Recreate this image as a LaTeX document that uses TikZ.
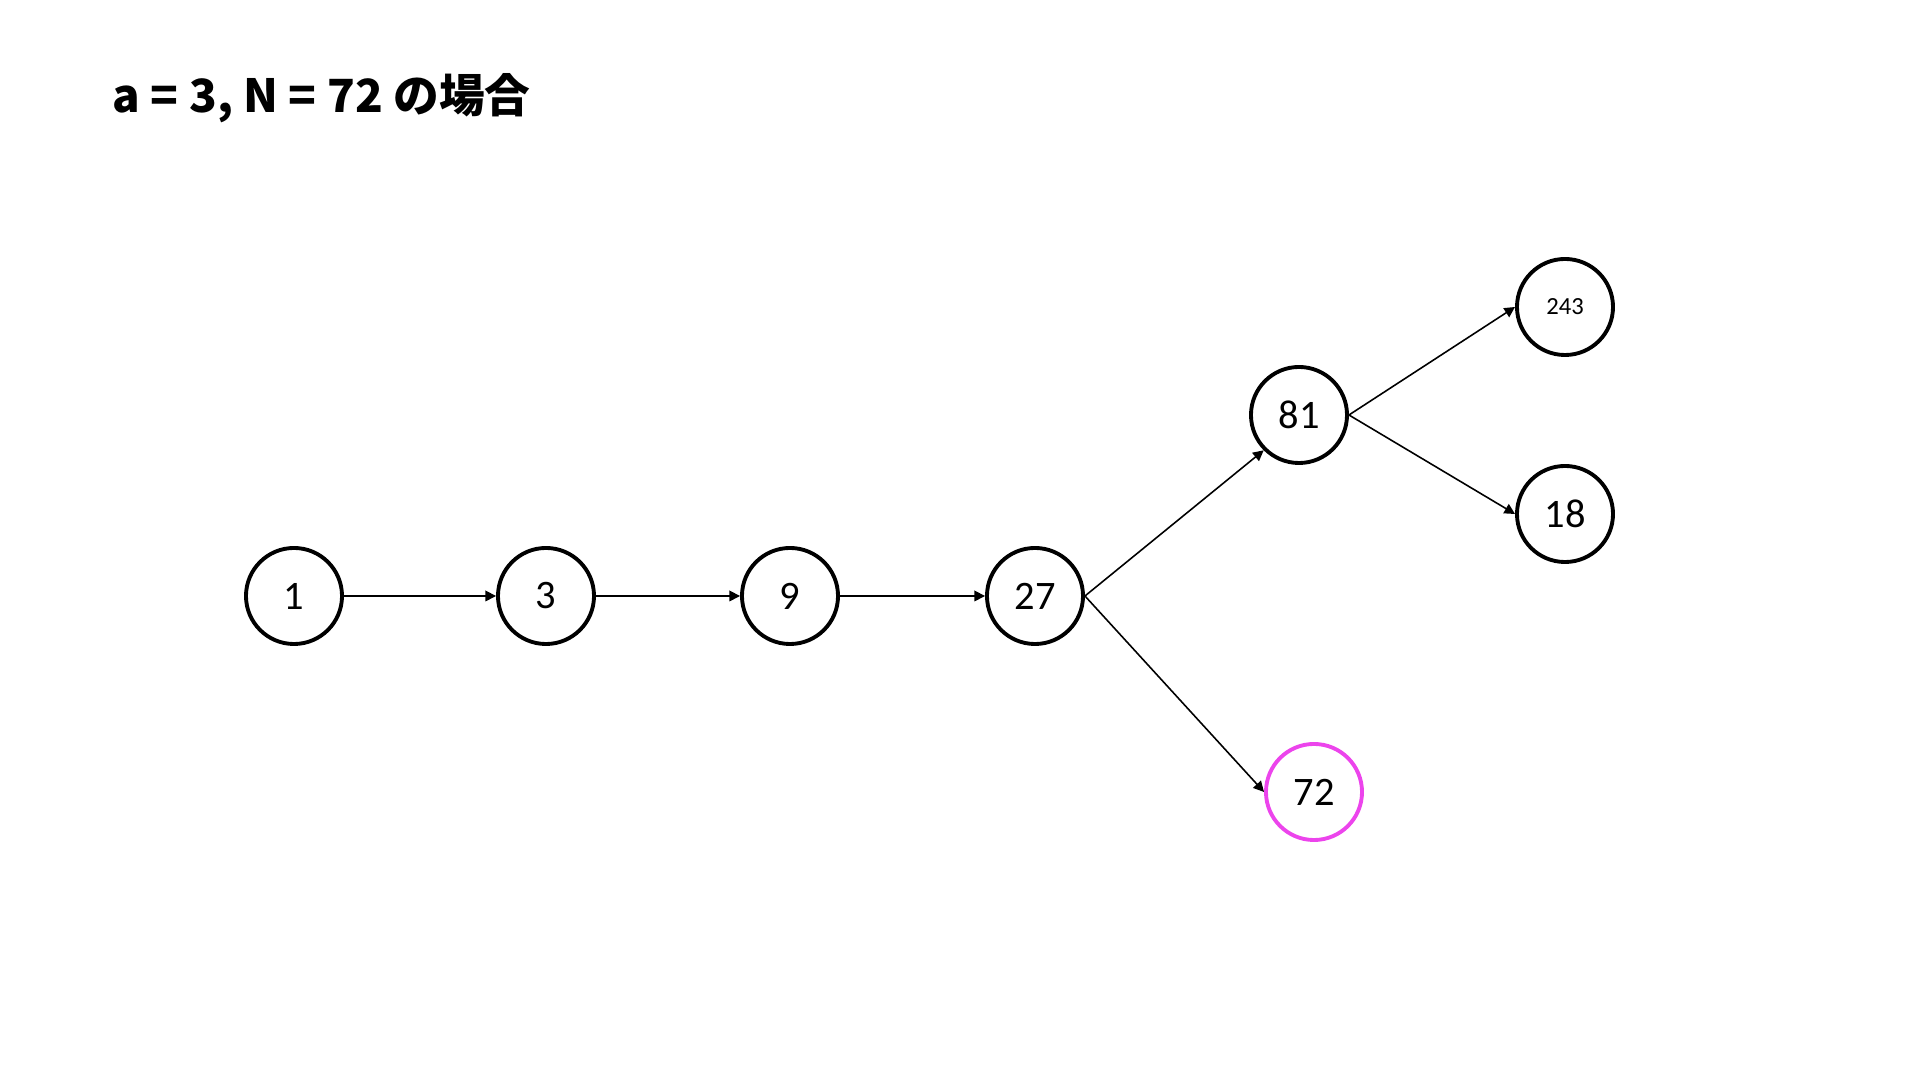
\documentclass[tikz,border=0pt]{standalone}
\usepackage{fontspec}
\setmainfont{Carlito}
\newfontfamily\cjk{Noto Sans CJK JP}
\usetikzlibrary{arrows.meta}
\definecolor{hitpink}{RGB}{236,68,236}
\begin{document}
\begin{tikzpicture}[x=0.01cm, y=-0.01cm,
    num/.style={circle, draw, line width=1.1pt, minimum size=96*0.2845pt, inner sep=0pt, font=\fontsize{11.5}{13}\selectfont},
    hit/.style={num, draw=hitpink},
    edge/.style={line width=0.45pt, -{Triangle[length=3pt,width=3pt]}}]
        \useasboundingbox (0,0) rectangle (1920,1080);
        % Title
        \node[anchor=base west, inner sep=0pt, font=\cjk\bfseries\fontsize{13}{15}\selectfont] (title) at (112,113) {a = 3, N = 72 の場合};
        % Powers of a
        \node[num] (n1) at (294,596) {1};
        \node[num] (n3) at (546,596) {3};
        \node[num] (n9) at (790,596) {9};
        \node[num] (n27) at (1035,596) {27};
        \node[num] (n81) at (1299,415) {81};
        \node[num, font=\fontsize{7}{8}\selectfont] (n243) at (1565,307) {243};
        \node[num] (n18) at (1565,514) {18};
        % Target
        \node[hit] (n72) at (1314,792) {72};
        % Edges
        \draw[edge] (n1) -- (n3);
        \draw[edge] (n3) -- (n9);
        \draw[edge] (n9) -- (n27);
        \draw[edge] (n27.east) -- (n81.south west);
        \draw[edge] (n27.east) -- (n72.west);
        \draw[edge] (n81.east) -- (n243.west);
        \draw[edge] (n81.east) -- (n18.west);
      \end{tikzpicture}
\end{document}
